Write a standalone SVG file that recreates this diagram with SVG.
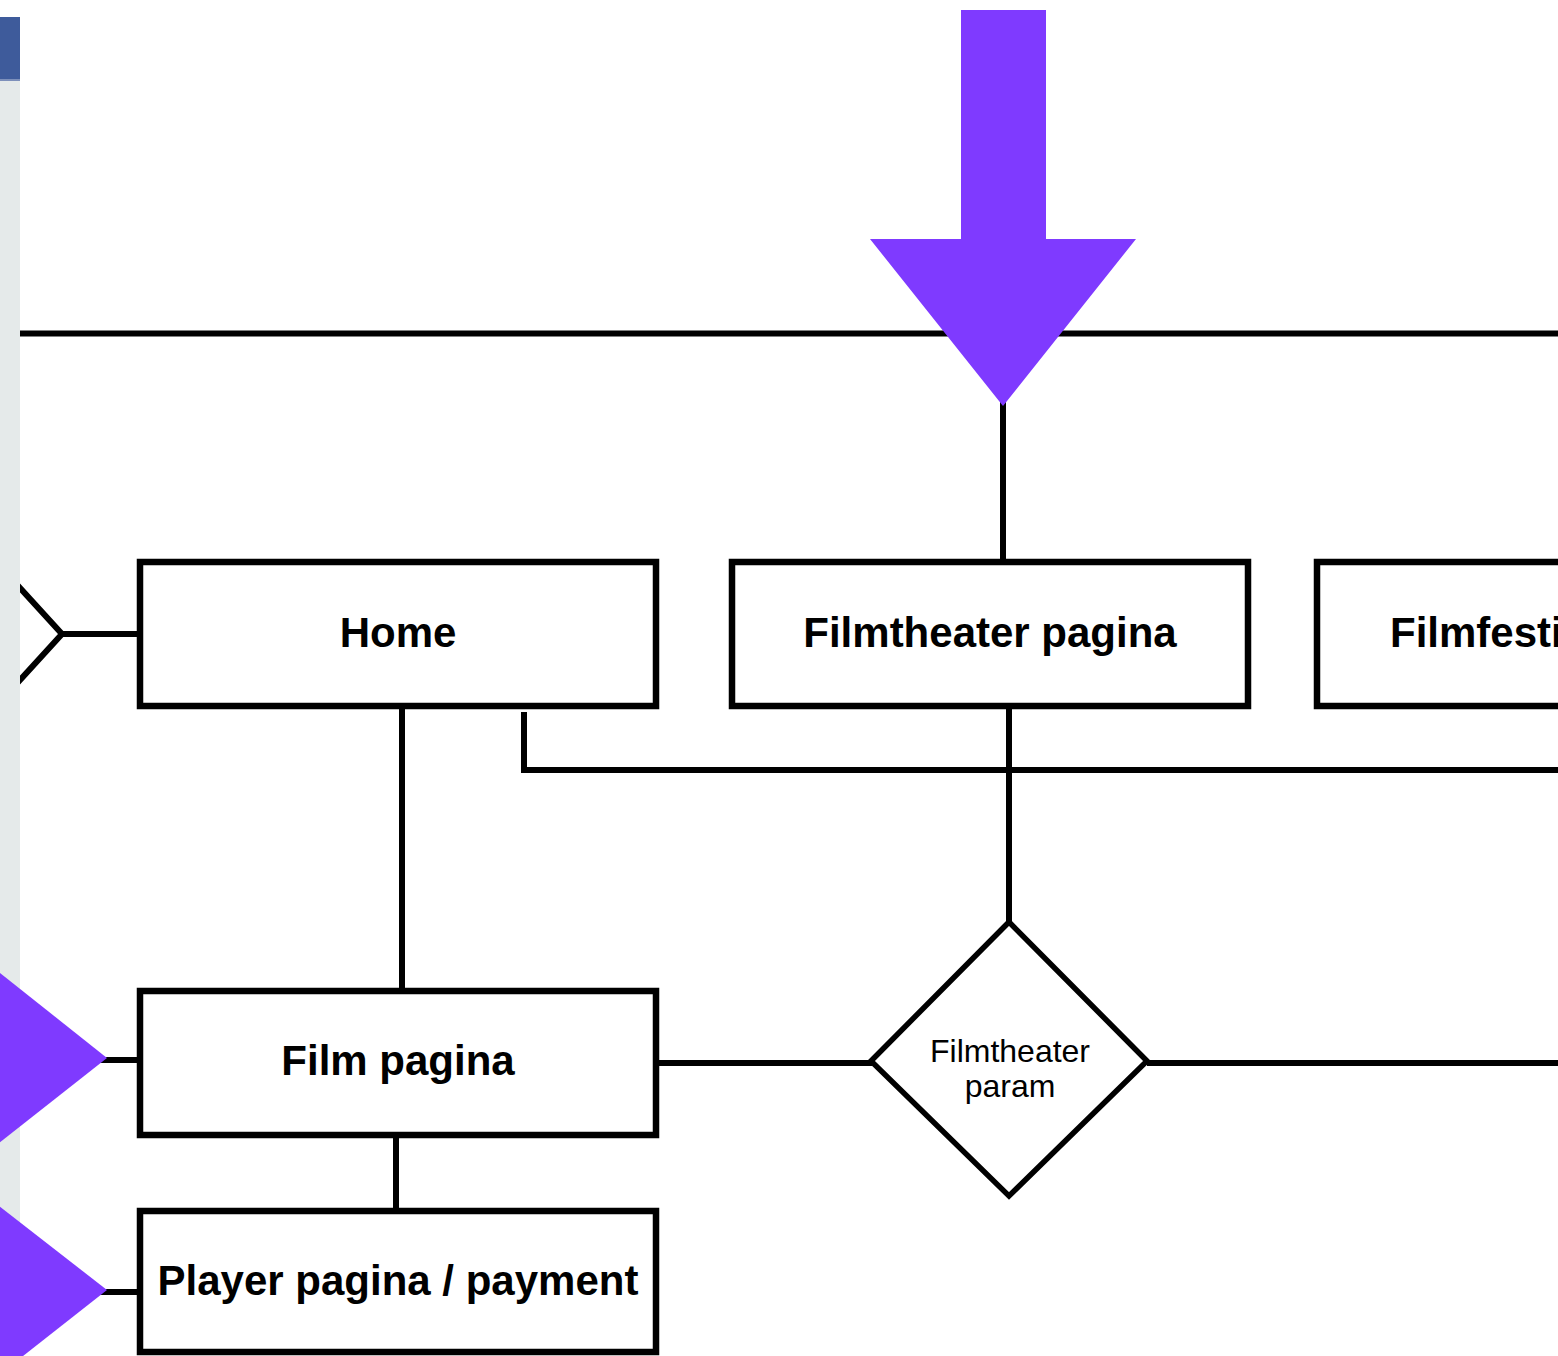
<svg xmlns="http://www.w3.org/2000/svg" width="1558" height="1356" viewBox="0 0 1558 1356">
<style>
.box{fill:#fff;stroke:#000;stroke-width:6.5}
.ln{fill:none;stroke:#000;stroke-width:6}
.big{font-family:"Liberation Sans",Arial,sans-serif;font-weight:bold;font-size:42px;fill:#000;text-anchor:middle}
.small{font-family:"Liberation Sans",Arial,sans-serif;font-size:32px;fill:#000;text-anchor:middle}
.purple{fill:#7f3aff}
</style>
<rect width="1558" height="1356" fill="#fff"/>
<g id="connectors">
<polyline class="ln" points="0,566 62,634 0,702"/>
<line class="ln" x1="62" y1="634" x2="140" y2="634"/>
<line class="ln" x1="0" y1="333.5" x2="1558" y2="333.5"/>
<line class="ln" x1="1003" y1="400" x2="1003" y2="562"/>
<line class="ln" x1="1009" y1="706" x2="1009" y2="921"/>
<polyline class="ln" points="524,712 524,770 1558,770"/>
<line class="ln" x1="402" y1="706" x2="402" y2="991"/>
<line class="ln" x1="396" y1="1135" x2="396" y2="1208"/>
<line class="ln" x1="656" y1="1063" x2="872" y2="1063"/>
<line class="ln" x1="1147" y1="1063" x2="1558" y2="1063"/>
<line class="ln" x1="100" y1="1060" x2="140" y2="1060"/>
<line class="ln" x1="100" y1="1292" x2="140" y2="1292"/>
</g>
<g id="sidebar">
<rect x="0" y="80" width="20" height="1276" fill="#e5eaea"/>
<rect x="0" y="17" width="20" height="63" fill="#3e5b9b"/>
<rect x="0" y="79" width="20" height="2" fill="#7d90bb"/>
</g>
<g id="arrow-top">
<polygon class="purple" points="961,10 1046,10 1046,239 1136,239 1003,406 870,239 961,239"/>
</g>
<g id="tri-film">
<polygon class="purple" points="-10,965 107,1058 -10,1150"/>
</g>
<g id="tri-player">
<polygon class="purple" points="-10,1199 107,1290 -10,1382"/>
</g>
<g id="home">
<rect class="box" x="140" y="562" width="516" height="144"/>
<text class="big" x="398" y="647">Home</text>
</g>
<g id="filmtheater">
<rect class="box" x="732" y="562" width="516" height="144"/>
<text class="big" x="990" y="647">Filmtheater pagina</text>
</g>
<g id="filmfestival">
<rect class="box" x="1317" y="562" width="300" height="144"/>
<text class="big" x="1390" y="647" style="text-anchor:start">Filmfesti</text>
</g>
<g id="film">
<rect class="box" x="140" y="991" width="516" height="144"/>
<text class="big" x="398" y="1075">Film pagina</text>
</g>
<g id="player">
<rect class="box" x="140" y="1211" width="516" height="141"/>
<text class="big" x="398" y="1295">Player pagina / payment</text>
</g>
<g id="diamond">
<polygon points="1009,922 1147,1061 1009,1196 871,1061" fill="#fff" stroke="#000" stroke-width="5.5"/>
<text class="small" x="1010" y="1062">Filmtheater</text>
<text class="small" x="1010" y="1097">param</text>
</g>
</svg>
